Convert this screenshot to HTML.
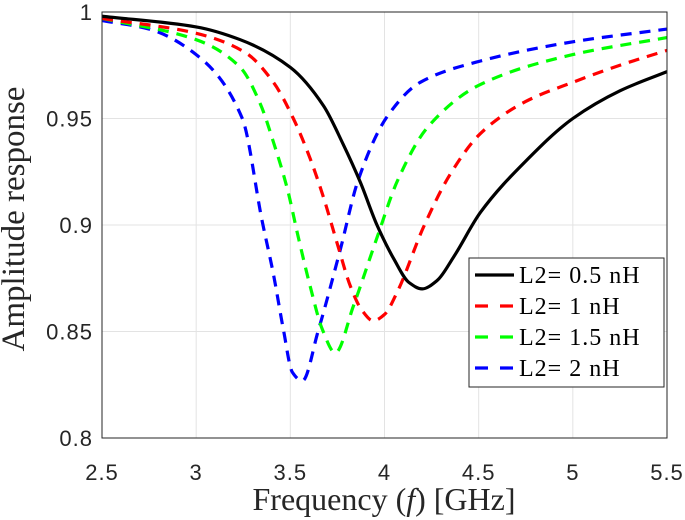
<!DOCTYPE html>
<html><head><meta charset="utf-8"><style>
body{margin:0;background:#fff}
svg{display:block}
.tick{font-family:"Liberation Sans",sans-serif;font-size:22px;fill:#262626;letter-spacing:1px}
.ser{font-family:"Liberation Serif",serif}
</style></head><body>
<svg id="chart" width="685" height="520">
<g id="grid"></g>
<g id="ticks"></g>
<g id="lines"></g>
<rect x="102" y="12" width="565" height="426" fill="none" stroke="#262626" stroke-width="1"/>
<text class="ser" x="384" y="510" text-anchor="middle" font-size="32" fill="#262626">Frequency (<tspan font-style="italic">f</tspan>) [GHz]</text>
<text class="ser" transform="translate(24,219) rotate(-90)" text-anchor="middle" font-size="33" fill="#262626">Amplitude response</text>
<g>
<rect x="469" y="258" width="195" height="129" fill="#fff" stroke="#262626" stroke-width="1"/>
<g id="legend"></g>
</g>
</svg>
<script>
const xTicks=[2.5,3,3.5,4,4.5,5,5.5];
const xTickLabels=["2.5","3","3.5","4","4.5","5","5.5"];
const yTicks=[0.8,0.85,0.9,0.95,1];
const yTickLabels=["0.8","0.85","0.9","0.95","1"];
const seriesNames=["L2= 0.5 nH","L2= 1 nH","L2= 1.5 nH","L2= 2 nH"];
const seriesColors=["#000","#f00","#0f0","#00f"];
const fBlack=[2.5,3,3.234,3.5,3.676,3.78,3.872,3.96,4.05,4.13,4.2,4.28,4.367,4.51,4.75,5,5.25,5.5];
const aBlack=[0.998,0.993,0.987,0.974,0.956,0.938,0.920,0.900,0.884,0.873,0.870,0.874,0.885,0.906,0.930,0.950,0.963,0.972];
const fRed=[2.5,3,3.26,3.41,3.516,3.606,3.676,3.75,3.82,3.88,3.94,4.0,4.07,4.207,4.35,4.51,4.75,5,5.25,5.5];
const aRed=[0.997,0.990,0.981,0.967,0.950,0.931,0.913,0.891,0.871,0.860,0.855,0.858,0.869,0.899,0.924,0.943,0.958,0.967,0.975,0.982];
const fGreen=[2.5,3,3.234,3.34,3.41,3.484,3.543,3.606,3.67,3.739,3.835,3.96,4.07,4.23,4.51,5,5.5];
const aGreen=[0.997,0.987,0.974,0.957,0.939,0.917,0.894,0.871,0.851,0.840,0.862,0.894,0.921,0.946,0.966,0.980,0.988];
const fBlue=[2.5,2.75,3,3.245,3.35,3.41,3.463,3.51,3.564,3.647,3.764,3.86,4.015,4.19,4.51,5,5.5];
const aBlue=[0.996,0.992,0.980,0.950,0.902,0.877,0.851,0.831,0.8268,0.850,0.888,0.921,0.951,0.967,0.977,0.986,0.992];
const seriesF=[fBlack,fRed,fGreen,fBlue];
const seriesA=[aBlack,aRed,aGreen,aBlue];
const X0=102,X1=667,Y0=438,Y1=12;
const sx=v=>X0+(v-2.5)/3*(X1-X0);
const sy=v=>Y0-(v-0.8)/0.2*(Y0-Y1);
const NS="http://www.w3.org/2000/svg";
function mk(t,a,p){const e=document.createElementNS(NS,t);for(const k in a)e.setAttribute(k,a[k]);p.appendChild(e);return e;}
const grid=document.getElementById('grid'),ticks=document.getElementById('ticks');
xTicks.forEach((v,i)=>{
 const l=mk('line',{x1:sx(v),x2:sx(v),y1:Y1,y2:Y0,stroke:'#e3e3e3'},grid);
 
 
 const t=mk('text',{x:sx(v),y:480,'text-anchor':'middle',class:'tick'},ticks);t.textContent=xTickLabels[i];
 
 
});
yTicks.forEach((v,i)=>{
 const l=mk('line',{x1:X0,x2:X1,y1:sy(v),y2:sy(v),stroke:'#e3e3e3'},grid);
 
 
 const t=mk('text',{x:X0-9,y:sy(v)+8,'text-anchor':'end',class:'tick'},ticks);t.textContent=yTickLabels[i];
 
 
});
// monotone cubic (Fritsch-Carlson) interpolation in data space
function pathOf(xs,ys){
 const n=xs.length,d=[],m=new Array(n);
 for(let i=0;i<n-1;i++)d.push((ys[i+1]-ys[i])/(xs[i+1]-xs[i]));
 m[0]=d[0];m[n-1]=d[n-2];
 for(let i=1;i<n-1;i++){
  if(d[i-1]*d[i]<=0)m[i]=0;
  else{const h0=xs[i]-xs[i-1],h1=xs[i+1]-xs[i];const w1=2*h1+h0,w2=h1+2*h0;m[i]=(w1+w2)/(w1/d[i-1]+w2/d[i]);}
 }
 let s='M'+sx(xs[0])+','+sy(ys[0]);
 for(let i=0;i<n-1;i++){
  const h=xs[i+1]-xs[i];
  const c1x=xs[i]+h/3,c1y=ys[i]+m[i]*h/3,c2x=xs[i+1]-h/3,c2y=ys[i+1]-m[i+1]*h/3;
  s+=` C${sx(c1x)},${sy(c1y)} ${sx(c2x)},${sy(c2y)} ${sx(xs[i+1])},${sy(ys[i+1])}`;
 }
 return s;
}
const lines=document.getElementById('lines'),leg=document.getElementById('legend');
for(let s=3;s>=0;s--){
 const a={d:pathOf(seriesF[s],seriesA[s]),fill:'none',stroke:seriesColors[s],'stroke-width':3.2};
 if(s>0)a['stroke-dasharray']='11,8';
 const p=mk('path',a,lines);
 
 
}
seriesNames.forEach((n,s)=>{
 const y=275+s*31;
 const a={x1:475,x2:514,y1:y,y2:y,stroke:seriesColors[s],'stroke-width':3.2};
 if(s>0)a['stroke-dasharray']='13,12';
 const l=mk('line',a,leg);
 
 
 const t=mk('text',{x:519,y:y+8,'font-size':24,fill:'#000',class:'ser','letter-spacing':1},leg);t.textContent=n;
 
 
});
</script>
</body></html>
